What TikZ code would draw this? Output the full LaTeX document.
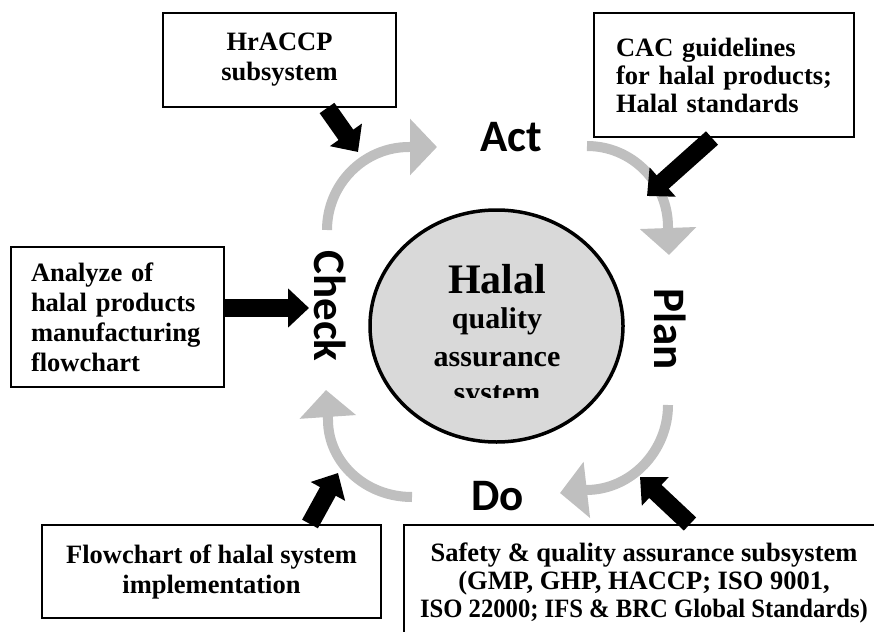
\documentclass[tikz,border=0pt]{standalone}
\usepackage{graphicx}
\usepackage{fontspec}
\setmainfont{Liberation Serif}
\newfontfamily\lblfont{Carlito}
\usetikzlibrary{arrows.meta,shapes.geometric}
\definecolor{arrgray}{HTML}{BFBFBF}
\definecolor{circfill}{HTML}{D9D9D9}
\begin{document}
\begin{tikzpicture}[x=1pt,y=-1pt,
  box/.style={draw, line width=2pt, inner sep=0pt, fill=white},
  boxfont/.style={font=\fontsize{26.5}{#1}\selectfont\bfseries},
  lbl/.style={font=\lblfont\fontsize{45}{54}\selectfont\bfseries, inner sep=0pt},
  blk/.style={line width=18pt, -{Triangle[width=38pt,length=21pt]}},
  gry/.style={arrgray, line width=10pt, -{Triangle[width=55pt,length=27pt]}},
  ctext/.style={anchor=base, inner sep=0pt}
]
\useasboundingbox (0,0) rectangle (874,631);
\clip (0,0) rectangle (874,631);

% boxes
\node[box, boxfont=30, minimum width=233pt, minimum height=94pt, align=center] (hr) at (279.5,60) {HrACCP\\subsystem};
\node[box, boxfont=28, minimum width=260pt, minimum height=124pt, text width=216pt, inner xsep=22pt, align=left] (cac) at (724,75) {CAC guidelines\\for halal products;\\Halal standards};
\node[box, boxfont=30, minimum width=213pt, minimum height=140pt, text width=173pt, inner xsep=20pt, align=left] (an) at (117.5,317) {Analyze of\\halal products\\manufacturing\\flowchart};
\node[box, boxfont=30, minimum width=339pt, minimum height=93pt, align=center] (fc) at (211.5,571.5) {Flowchart of halal system\\implementation};
\node[box, boxfont=28, minimum width=480pt, minimum height=115pt, align=center] (sf) at (644,582.5) {Safety \& quality assurance subsystem\\(GMP, GHP, HACCP; ISO 9001,\\\scalebox{0.93}[1]{ISO 22000; IFS \& BRC Global Standards)}};

% central circle
\node[ellipse, draw, line width=3.5pt, fill=circfill, minimum width=253pt, minimum height=232pt, inner sep=0pt] (circ) at (496.5,326) {};
\begin{scope}
\clip (372,240) rectangle (621,397);
\node[ctext, font=\fontsize{42}{48}\selectfont\bfseries] (t1) at (497,293) {Halal};
\node[ctext, font=\fontsize{30}{36}\selectfont\bfseries] (t2) at (497,328) {quality};
\node[ctext, font=\fontsize{30}{36}\selectfont\bfseries] (t3) at (497,366) {assurance};
\node[ctext, font=\fontsize{30}{36}\selectfont\bfseries] (t4) at (497,402) {system};
\end{scope}

% PDCA labels
\node[lbl, anchor=base] (act) at (511,152) {Act};
\node[lbl, anchor=base] (do) at (497.5,510) {Do};
\node[lbl, rotate=-90] (check) at (330,306) {Check};
\node[lbl, rotate=-90] (plan) at (670,329) {Plan};

% grey cycle arrows
\coordinate (g1s) at (327,230); \coordinate (g1e) at (409,147); \coordinate (g1t) at (437,147);
\coordinate (g2s) at (587,146); \coordinate (g2e) at (668,227); \coordinate (g2t) at (669,255);
\coordinate (g3s) at (668,405); \coordinate (g3e) at (586,490); \coordinate (g3t) at (560,493);
\coordinate (g4s) at (412,497); \coordinate (g4e) at (328,420); \coordinate (g4t) at (326,390);
\draw[gry] (g1s) .. controls (327,184.5) and (363.5,147) .. (g1e) -- (g1t);
\draw[gry] (g2s) .. controls (631.7,146) and (668,182.3) .. (g2e) -- (g2t);
\draw[gry] (g3s) .. controls (668,450.8) and (631.3,490) .. (g3e) -- (g3t);
\draw[gry] (g4s) .. controls (365,497) and (328,462) .. (g4e) -- (g4t);

% black input arrows
\coordinate (b1) at (358,152);
\coordinate (b2) at (647,196);
\coordinate (b3) at (309,308);
\coordinate (b4) at (338,473);
\coordinate (b5) at (640,477);
\draw[blk] ([xshift=47.5pt]hr.south) -- (b1);
\draw[blk] ([xshift=-12pt]cac.south) -- (b2);
\draw[blk] ([yshift=9pt]an.east) -- (b3);
\draw[blk] ([xshift=98.5pt]fc.north) -- (b4);
\draw[blk] ([xshift=46pt]sf.north) -- (b5);
\end{tikzpicture}
\end{document}
